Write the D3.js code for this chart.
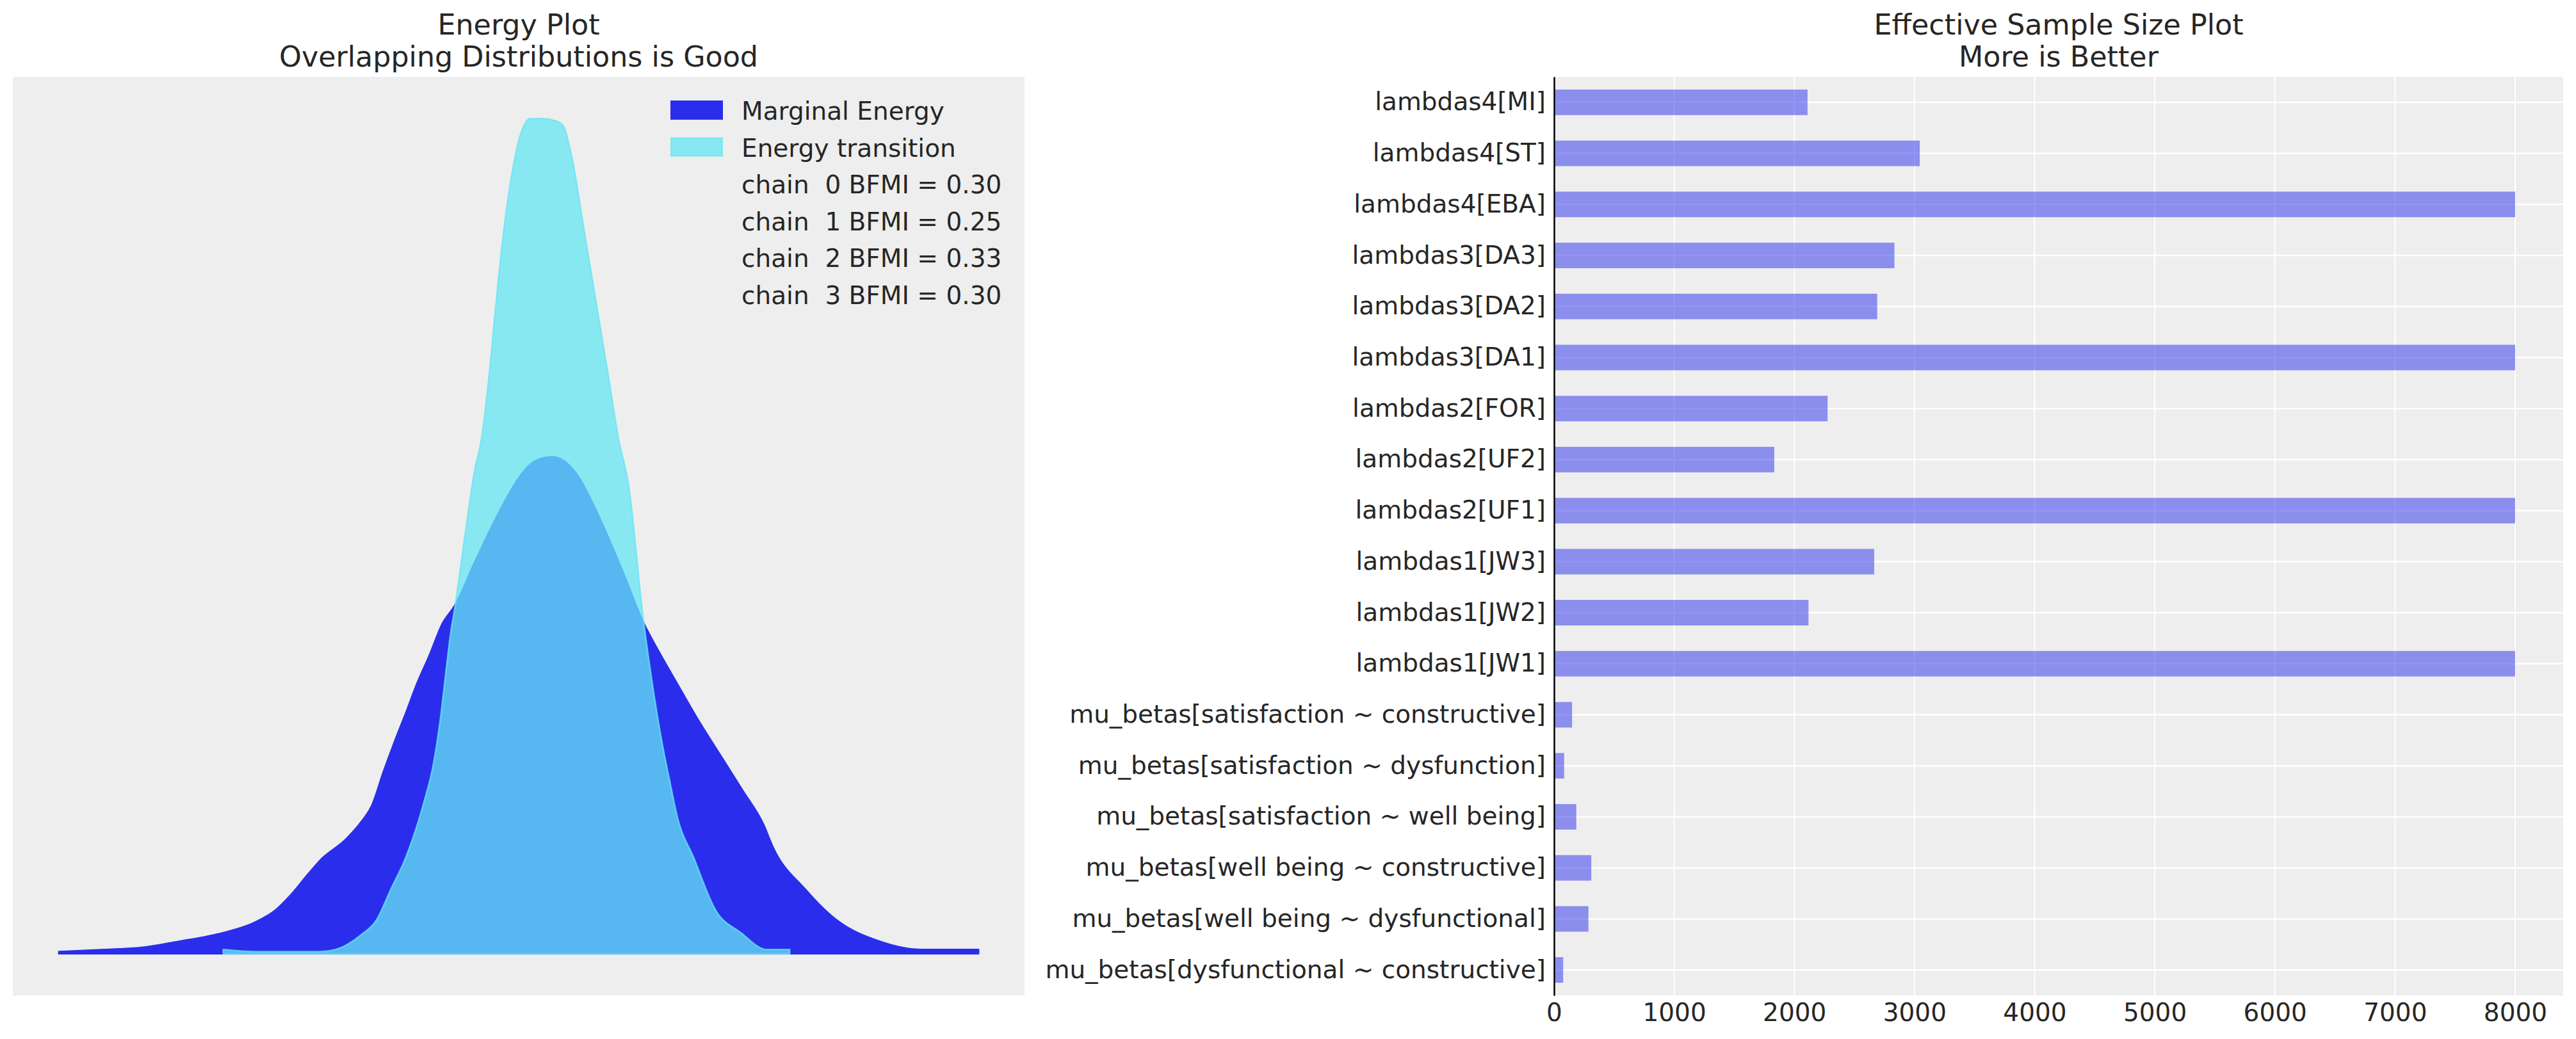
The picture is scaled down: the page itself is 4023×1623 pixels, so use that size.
<!DOCTYPE html>
<html>
<head>
<meta charset="utf-8">
<script src="https://cdn.jsdelivr.net/npm/d3@7"></script>
<style>
  html, body { margin: 0; padding: 0; background: #ffffff; }
  svg text { font-family: "DejaVu Sans", sans-serif; fill: #262626; white-space: pre; }
</style>
</head>
<body>
<svg id="chart" width="4023" height="1623" xmlns="http://www.w3.org/2000/svg"></svg>
<script>
// ---------------- DATA ----------------
// Energy plot: KDE curves (energy, density)
const marginalEnergyX = [-7.71,-6.99,-6.42,-5.82,-5.15,-4.65,-4.32,-4.09,-3.82,-3.62,-3.22,-2.99,-2.82,-2.64,-2.46,-2.28,-2.12,-1.92,-1.72,-1.52,-1.22,-0.94,-0.72,-0.50,-0.27,0.00,0.23,0.40,0.63,0.84,1.13,1.42,1.68,1.96,2.28,2.63,2.98,3.30,3.45,3.95,4.45,5.11,5.78,6.66];
const marginalEnergyY = [0.001,0.002,0.003,0.006,0.010,0.015,0.021,0.028,0.038,0.045,0.055,0.063,0.071,0.087,0.102,0.116,0.129,0.143,0.158,0.167,0.187,0.205,0.218,0.229,0.236,0.238,0.235,0.229,0.216,0.202,0.181,0.159,0.144,0.129,0.112,0.095,0.078,0.062,0.051,0.031,0.016,0.006,0.002,0.002];
const transitionX = [-5.14,-4.62,-3.65,-3.39,-2.99,-2.75,-2.52,-2.29,-2.02,-1.85,-1.75,-1.65,-1.59,-1.52,-1.37,-1.21,-1.11,-0.99,-0.88,-0.76,-0.65,-0.49,-0.34,-0.15,0.04,0.16,0.31,0.50,0.69,0.88,1.04,1.19,1.42,1.60,1.71,1.84,1.95,2.21,2.55,2.95,3.35,3.71];
const transitionY = [0.002,0.001,0.001,0.002,0.009,0.016,0.031,0.046,0.071,0.092,0.112,0.138,0.153,0.166,0.199,0.232,0.246,0.276,0.311,0.346,0.370,0.393,0.400,0.400,0.399,0.397,0.381,0.346,0.311,0.276,0.246,0.225,0.161,0.122,0.102,0.082,0.066,0.046,0.021,0.010,0.002,0.002];
const legendLabels = ["Marginal Energy", "Energy transition"];
const bfmiChains = [0, 1, 2, 3];
const bfmiValues = [0.30, 0.25, 0.33, 0.30];

// ESS plot
const essLabels = [
  "lambdas4[MI]", "lambdas4[ST]", "lambdas4[EBA]",
  "lambdas3[DA3]", "lambdas3[DA2]", "lambdas3[DA1]",
  "lambdas2[FOR]", "lambdas2[UF2]", "lambdas2[UF1]",
  "lambdas1[JW3]", "lambdas1[JW2]", "lambdas1[JW1]",
  "mu_betas[satisfaction ~ constructive]", "mu_betas[satisfaction ~ dysfunction]",
  "mu_betas[satisfaction ~ well being]", "mu_betas[well being ~ constructive]",
  "mu_betas[well being ~ dysfunctional]", "mu_betas[dysfunctional ~ constructive]"
];
const essValues = [2110, 3044, 8000, 2833, 2690, 8000, 2277, 1833, 8000, 2665, 2118, 8000, 150, 84, 185, 310, 286, 76];
const essTicks = [0, 1000, 2000, 3000, 4000, 5000, 6000, 7000, 8000];

const titles = [["Energy Plot", "Overlapping Distributions is Good"], ["Effective Sample Size Plot", "More is Better"]];

// ---------------- DRAW ----------------
const svg = d3.select("#chart");
const BG = "#eeeeee";
const C0 = "#2a2eec", C5 = "#65e5f3";
const FS = 39, TFS = 44.4;

// ===== Left: energy plot =====
const L = {x0: 20, x1: 1600, y0: 120, y1: 1555};
svg.append("rect").attr("x", L.x0).attr("y", L.y0).attr("width", L.x1 - L.x0).attr("height", L.y1 - L.y0).attr("fill", BG);

const allX = marginalEnergyX.concat(transitionX);
const xmin = d3.min(allX), xmax = d3.max(allX), xpad = 0.05 * (xmax - xmin);
const ymax = d3.max(marginalEnergyY.concat(transitionY));
const xE = d3.scaleLinear().domain([xmin - xpad, xmax + xpad]).range([L.x0, L.x1]);
const yE = d3.scaleLinear().domain([-0.05 * ymax, 1.05 * ymax]).range([L.y1, L.y0]);

const area = d3.area().x(d => xE(d[0])).y0(yE(0)).y1(d => yE(d[1])).curve(d3.curveMonotoneX);
const me = d3.zip(marginalEnergyX, marginalEnergyY);
const tr = d3.zip(transitionX, transitionY);

svg.append("path").datum(me).attr("d", area)
  .attr("fill", C0).attr("stroke", C0).attr("stroke-width", 2.5).attr("stroke-linejoin", "round");
svg.append("path").datum(tr).attr("d", area)
  .attr("fill", C5).attr("fill-opacity", 0.75)
  .attr("stroke", C5).attr("stroke-opacity", 0.75).attr("stroke-width", 2.5).attr("stroke-linejoin", "round");

// legend
const lg = svg.append("g");
const legRows = legendLabels.concat(bfmiChains.map((c, i) => `chain  ${c} BFMI = ${bfmiValues[i].toFixed(2)}`));
const legBase0 = 187, legStep = 57.6;
lg.append("rect").attr("x", 1047).attr("y", legBase0 - 30).attr("width", 82).attr("height", 30).attr("fill", C0);
lg.append("rect").attr("x", 1048.2).attr("y", legBase0 + legStep - 30 + 1.2).attr("width", 79.6).attr("height", 27.6)
  .attr("fill", C5).attr("fill-opacity", 0.75).attr("stroke", C5).attr("stroke-opacity", 0.75).attr("stroke-width", 2.5);
legRows.forEach((t, i) => {
  lg.append("text").attr("x", 1158).attr("y", legBase0 + i * legStep).attr("font-size", FS).text(t);
});

// ===== Right: ESS plot =====
const R = {x0: 2427, x1: 4003, y0: 120, y1: 1555};
svg.append("rect").attr("x", R.x0).attr("y", R.y0).attr("width", R.x1 - R.x0).attr("height", R.y1 - R.y0).attr("fill", BG);

const xS = d3.scaleLinear().domain([0, 8400]).range([R.x0, R.x1]);
const yS = d3.scaleBand().domain(essLabels).range([R.y0, R.y1]).paddingInner(0.5).paddingOuter(0.25);

// grid
svg.append("g").selectAll("line").data(essTicks.filter(d => d > 0)).join("line")
  .attr("x1", d => xS(d)).attr("x2", d => xS(d)).attr("y1", R.y0).attr("y2", R.y1)
  .attr("stroke", "#ffffff").attr("stroke-width", 2);
svg.append("g").selectAll("line").data(essLabels).join("line")
  .attr("x1", R.x0).attr("x2", R.x1)
  .attr("y1", d => yS(d) + yS.bandwidth() / 2).attr("y2", d => yS(d) + yS.bandwidth() / 2)
  .attr("stroke", "#ffffff").attr("stroke-width", 2.5);

// bars
svg.append("g").selectAll("rect").data(d3.zip(essLabels, essValues)).join("rect")
  .attr("x", xS(0)).attr("y", d => yS(d[0]))
  .attr("width", d => xS(d[1]) - xS(0)).attr("height", yS.bandwidth())
  .attr("fill", C0).attr("fill-opacity", 0.5);

// axes
const xAxis = svg.append("g").attr("transform", `translate(0,${R.y1})`)
  .call(d3.axisBottom(xS).tickValues(essTicks).tickFormat(d3.format("d")).tickSize(0).tickPadding(12));
xAxis.select(".domain").remove();
xAxis.selectAll("text").attr("font-size", FS).attr("font-family", "DejaVu Sans").attr("fill", "#262626");

const yAxis = svg.append("g").attr("transform", `translate(${R.x0},0)`)
  .call(d3.axisLeft(yS).tickSize(0).tickSizeOuter(0).tickPadding(13));
yAxis.select(".domain").attr("stroke", "#000000").attr("stroke-width", 2.5);
yAxis.selectAll("text").attr("font-size", FS).attr("font-family", "DejaVu Sans").attr("fill", "#262626");

// titles
[[(L.x0 + L.x1) / 2, titles[0]], [(R.x0 + R.x1) / 2, titles[1]]].forEach(([cx, lines]) => {
  lines.forEach((t, i) => {
    svg.append("text").attr("x", cx).attr("y", 54 + i * 50).attr("text-anchor", "middle")
      .attr("font-size", TFS).text(t);
  });
});
</script>
</body>
</html>
